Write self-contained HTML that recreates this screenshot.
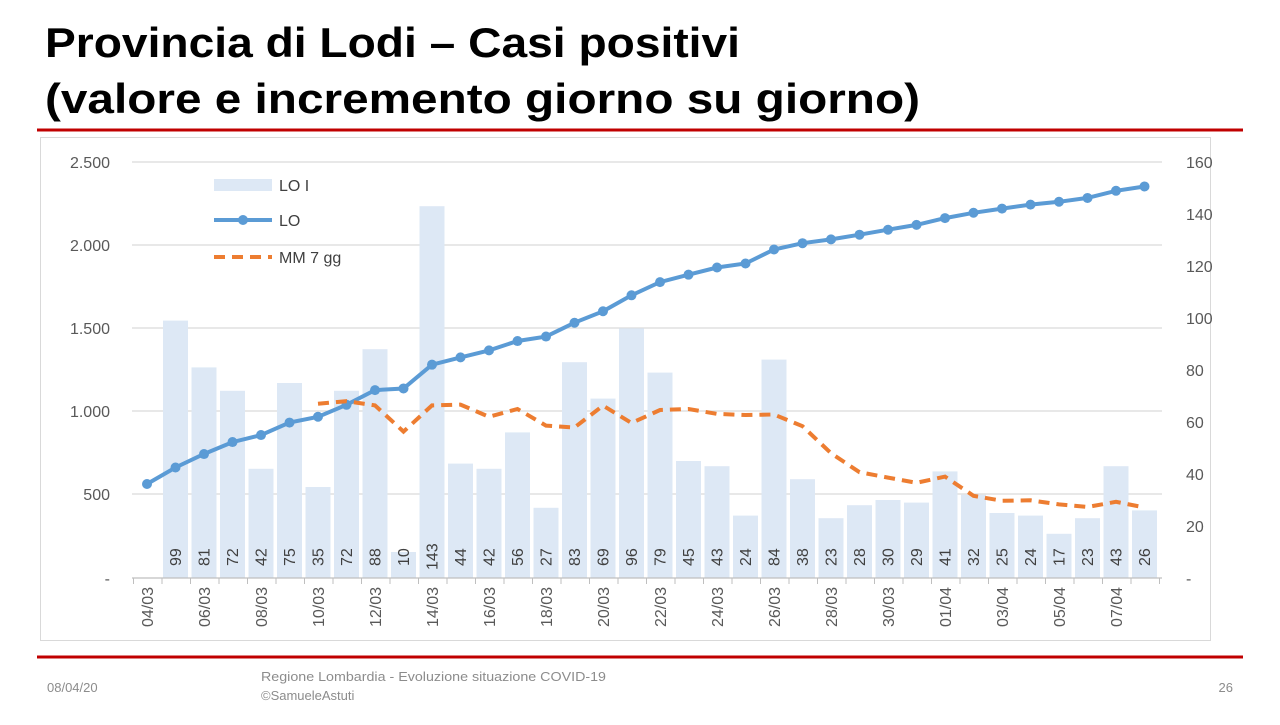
<!DOCTYPE html>
<html><head><meta charset="utf-8"><style>
body{margin:0;background:#fff;width:1280px;height:720px;overflow:hidden;font-family:"Liberation Sans",sans-serif}
</style></head><body>
<svg id="s" width="1280" height="720" xmlns="http://www.w3.org/2000/svg" font-family="Liberation Sans, sans-serif">
<text x="45" y="57" font-size="42" font-weight="bold" fill="#000" textLength="695" lengthAdjust="spacingAndGlyphs">Provincia di Lodi – Casi positivi</text>
<text x="45" y="113" font-size="42" font-weight="bold" fill="#000" textLength="875" lengthAdjust="spacingAndGlyphs">(valore e incremento giorno su giorno)</text>
<line x1="37" y1="130" x2="1243" y2="130" stroke="#c00000" stroke-width="3"/>
<rect x="40.5" y="137.5" width="1170" height="503" fill="#fff" stroke="#d9d9d9"/>
<g id="grid" stroke="#d9d9d9" stroke-width="1.3">
<line x1="132" x2="1162" y1="162" y2="162"/><line x1="132" x2="1162" y1="245" y2="245"/>
<line x1="132" x2="1162" y1="328" y2="328"/><line x1="132" x2="1162" y1="411" y2="411"/>
<line x1="132" x2="1162" y1="494" y2="494"/>
</g>
<g id="bars" fill="#dde8f5"></g>
<line x1="132" x2="1162" y1="578" y2="578" stroke="#bfbfbf" stroke-width="1.3"/>
<g id="ticks" stroke="#bfbfbf"></g>
<g font-size="16" fill="#595959" text-anchor="end">
<text x="110" y="168">2.500</text><text x="110" y="251">2.000</text><text x="110" y="334">1.500</text>
<text x="110" y="417">1.000</text><text x="110" y="500">500</text><text x="110" y="584">-</text>
</g>
<g font-size="16" fill="#595959" text-anchor="start">
<text x="1186" y="168">160</text><text x="1186" y="220">140</text><text x="1186" y="272">120</text>
<text x="1186" y="324">100</text><text x="1186" y="376">80</text><text x="1186" y="428">60</text>
<text x="1186" y="480">40</text><text x="1186" y="532">20</text><text x="1186" y="584">-</text>
</g>
<g id="lines"></g>
<g font-size="16" fill="#404040" id="blab">
<text transform="translate(181,566) rotate(-90)">99</text>
<text transform="translate(209.5,566) rotate(-90)">81</text>
<text transform="translate(238,566) rotate(-90)">72</text>
<text transform="translate(266.5,566) rotate(-90)">42</text>
<text transform="translate(295,566) rotate(-90)">75</text>
<text transform="translate(323.5,566) rotate(-90)">35</text>
<text transform="translate(352,566) rotate(-90)">72</text>
<text transform="translate(380.5,566) rotate(-90)">88</text>
<text transform="translate(409,566) rotate(-90)">10</text>
<text transform="translate(437.5,570) rotate(-90)">143</text>
<text transform="translate(466,566) rotate(-90)">44</text>
<text transform="translate(494.5,566) rotate(-90)">42</text>
<text transform="translate(523,566) rotate(-90)">56</text>
<text transform="translate(551.5,566) rotate(-90)">27</text>
<text transform="translate(580,566) rotate(-90)">83</text>
<text transform="translate(608.5,566) rotate(-90)">69</text>
<text transform="translate(637,566) rotate(-90)">96</text>
<text transform="translate(665.5,566) rotate(-90)">79</text>
<text transform="translate(694,566) rotate(-90)">45</text>
<text transform="translate(722.5,566) rotate(-90)">43</text>
<text transform="translate(751,566) rotate(-90)">24</text>
<text transform="translate(779.5,566) rotate(-90)">84</text>
<text transform="translate(808,566) rotate(-90)">38</text>
<text transform="translate(836.5,566) rotate(-90)">23</text>
<text transform="translate(865,566) rotate(-90)">28</text>
<text transform="translate(893.5,566) rotate(-90)">30</text>
<text transform="translate(922,566) rotate(-90)">29</text>
<text transform="translate(950.5,566) rotate(-90)">41</text>
<text transform="translate(979,566) rotate(-90)">32</text>
<text transform="translate(1007.5,566) rotate(-90)">25</text>
<text transform="translate(1036,566) rotate(-90)">24</text>
<text transform="translate(1064.5,566) rotate(-90)">17</text>
<text transform="translate(1093,566) rotate(-90)">23</text>
<text transform="translate(1121.5,566) rotate(-90)">43</text>
<text transform="translate(1150,566) rotate(-90)">26</text>
</g>
<g font-size="16" fill="#595959" text-anchor="end">
<text transform="translate(153,587) rotate(-90)">04/03</text>
<text transform="translate(210,587) rotate(-90)">06/03</text>
<text transform="translate(267,587) rotate(-90)">08/03</text>
<text transform="translate(324,587) rotate(-90)">10/03</text>
<text transform="translate(381,587) rotate(-90)">12/03</text>
<text transform="translate(438,587) rotate(-90)">14/03</text>
<text transform="translate(495,587) rotate(-90)">16/03</text>
<text transform="translate(552,587) rotate(-90)">18/03</text>
<text transform="translate(609,587) rotate(-90)">20/03</text>
<text transform="translate(666,587) rotate(-90)">22/03</text>
<text transform="translate(723,587) rotate(-90)">24/03</text>
<text transform="translate(780,587) rotate(-90)">26/03</text>
<text transform="translate(837,587) rotate(-90)">28/03</text>
<text transform="translate(894,587) rotate(-90)">30/03</text>
<text transform="translate(951,587) rotate(-90)">01/04</text>
<text transform="translate(1008,587) rotate(-90)">03/04</text>
<text transform="translate(1065,587) rotate(-90)">05/04</text>
<text transform="translate(1122,587) rotate(-90)">07/04</text>
</g>
<rect x="214" y="179" width="58" height="12" fill="#dde8f5"/>
<text x="279" y="191" font-size="16" fill="#404040">LO I</text>
<line x1="214" y1="220" x2="272" y2="220" stroke="#5b9bd5" stroke-width="4"/>
<circle cx="243" cy="220" r="5" fill="#5b9bd5"/>
<text x="279" y="226" font-size="16" fill="#404040">LO</text>
<line x1="214" y1="257" x2="272" y2="257" stroke="#ed7d31" stroke-width="4" stroke-dasharray="11,7"/>
<text x="279" y="263" font-size="16" fill="#404040">MM 7 gg</text>
<line x1="37" y1="657" x2="1243" y2="657" stroke="#c00000" stroke-width="3"/>
<text x="47" y="692" font-size="13" fill="#8c8c8c">08/04/20</text>
<text x="261" y="681" font-size="13" fill="#8c8c8c" textLength="345" lengthAdjust="spacingAndGlyphs">Regione Lombardia - Evoluzione situazione COVID-19</text>
<text x="261" y="700" font-size="13" fill="#8c8c8c">©SamueleAstuti</text>
<text x="1233" y="692" font-size="13" fill="#8c8c8c" text-anchor="end">26</text>
</svg>
<script>
var NS="http://www.w3.org/2000/svg";
function el(t,a,p){var e=document.createElementNS(NS,t);for(var k in a)e.setAttribute(k,a[k]);document.getElementById(p).appendChild(e);return e;}
var inc=[99,81,72,42,75,35,72,88,10,143,44,42,56,27,83,69,96,79,45,43,24,84,38,23,28,30,29,41,32,25,24,17,23,43,26];
function X(i){return 147+i*28.5;}
for(var i=0;i<inc.length;i++){var h=inc[i]*2.6;el("rect",{x:X(i+1)-12.5,y:578-h,width:25,height:h},"bars");}
for(var i=0;i<=36;i++){el("line",{x1:132+i*28.5+1.5,x2:132+i*28.5+1.5,y1:578,y2:584},"ticks");}
var lo=[565],c=565;for(var i=0;i<inc.length;i++){c+=inc[i];lo.push(c);}
var pts=lo.map(function(v,i){return X(i)+","+(578-v*0.1664).toFixed(1)}).join(" ");
el("polyline",{points:pts,fill:"none",stroke:"#5b9bd5","stroke-width":4},"lines");
lo.forEach(function(v,i){el("circle",{cx:X(i),cy:578-v*0.1664,r:5,fill:"#5b9bd5"},"lines");});
var mm=[67,68,66.4,56.3,66.4,66.7,62,65,58.6,57.9,66.3,59.6,64.6,65,63.1,62.7,62.9,58.4,48,40.7,38.6,36.6,39,31.6,29.7,29.9,28.3,27.3,29.3,27.1];
var p2=mm.map(function(v,i){return X(i+6)+","+(578-v*2.6).toFixed(1)}).join(" ");
el("polyline",{points:p2,fill:"none",stroke:"#ed7d31","stroke-width":4,"stroke-dasharray":"11,7"},"lines");
</script>
</body></html>
